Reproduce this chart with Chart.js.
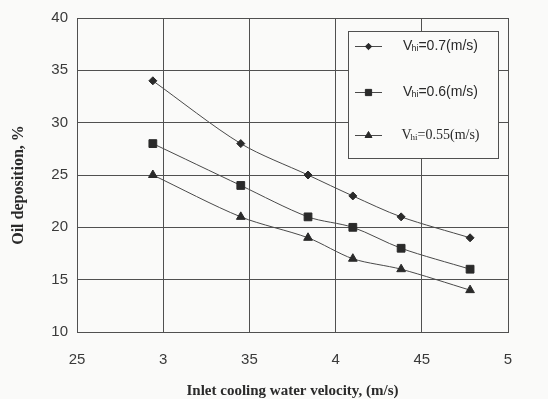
<!DOCTYPE html>
<html><head><meta charset="utf-8">
<script src="https://cdn.jsdelivr.net/npm/chart.js@4/dist/chart.umd.min.js"></script>
<style>html,body{margin:0;padding:0;background:#fafaf9;}#wrap{width:548px;height:399px;}</style>
</head><body><div id="wrap"><canvas id="c" width="548" height="399"></canvas></div>
<script>
// ---- data ----
const velocity = [2.94, 3.45, 3.84, 4.10, 4.38, 4.78];
const deposition07 = [34, 28, 25, 23, 21, 19];
const deposition06 = [28, 24, 21, 20, 18, 16];
const deposition055 = [25, 21, 19, 17, 16, 14];
const seriesMain = ['V', 'V', 'V'];
const seriesSub = ['hi', 'hi', 'hi'];
const seriesRest = ['=0.7(m/s)', '=0.6(m/s)', '=0.55(m/s)'];
const xTickValues = [2.5, 3, 3.5, 4, 4.5, 5];
const xTickLabels = ['25', '3', '35', '4', '45', '5'];
const yTickValues = [10, 15, 20, 25, 30, 35, 40];
const yTickLabels = ['10', '15', '20', '25', '30', '35', '40'];
const xTitle = 'Inlet cooling water velocity, (m/s)';
const yTitle = 'Oil deposition, %';

const ink = '#2a2a2a';
const tickInk = '#3a3a3a';
const lineInk = '#4a4a4a';
const gridInk = '#505050';
const bg = '#fafaf9';

function pts(ys) { return velocity.map((x, i) => ({x: x, y: ys[i]})); }

const seriesDefs = [
  {data: deposition07, style: 'rectRot', r: 4},
  {data: deposition06, style: 'rect', r: 5.5},
  {data: deposition055, style: 'triangle', r: 5}
];

const datasets = seriesDefs.map((s, i) => ({
  label: seriesMain[i] + seriesSub[i] + seriesRest[i],
  data: pts(s.data),
  borderColor: lineInk,
  backgroundColor: ink,
  pointBackgroundColor: ink,
  pointBorderColor: ink,
  borderWidth: 1,
  pointStyle: s.style,
  pointRadius: s.r,
  pointBorderWidth: 1,
  tension: 0.3,
  fill: false
}));

function drawMarker(ctx, style, x, y, r) {
  ctx.beginPath();
  if (style === 'rectRot') {
    ctx.moveTo(x, y - r); ctx.lineTo(x + r, y); ctx.lineTo(x, y + r); ctx.lineTo(x - r, y);
  } else if (style === 'rect') {
    const s = r * Math.SQRT1_2;
    ctx.rect(x - s, y - s, 2 * s, 2 * s);
  } else {
    const w = r * Math.sqrt(3) / 2;
    ctx.moveTo(x, y - r); ctx.lineTo(x + w, y + r / 2); ctx.lineTo(x - w, y + r / 2);
  }
  ctx.closePath();
  ctx.fill();
  ctx.stroke();
}

const boxLegend = {
  id: 'boxLegend',
  afterDatasetsDraw(chart) {
    const ctx = chart.ctx;
    const ca = chart.chartArea;
    const bx = ca.left + 271, by = ca.top + 13, bw = 150, bh = 127;
    ctx.save();
    ctx.fillStyle = bg;
    ctx.fillRect(bx, by, bw, bh);
    ctx.strokeStyle = gridInk;
    ctx.lineWidth = 1;
    ctx.strokeRect(bx + 0.5, by + 0.5, bw, bh);
    const rowsY = [by + 15, by + 61, by + 104];
    chart.data.datasets.forEach((ds, i) => {
      const y = rowsY[i];
      ctx.strokeStyle = lineInk;
      ctx.beginPath(); ctx.moveTo(bx + 7, y + 0.5); ctx.lineTo(bx + 34, y + 0.5); ctx.stroke();
      ctx.fillStyle = ink; ctx.strokeStyle = ink;
      drawMarker(ctx, ds.pointStyle, bx + 20.5, y + 0.5, ds.pointRadius * 0.8);
      const fam = i === 2 ? '"Liberation Serif", serif' : '"Liberation Sans Narrow", "Liberation Sans", sans-serif';
      const big = '14px ' + fam, small = '9px ' + fam;
      ctx.textBaseline = 'middle';
      ctx.textAlign = 'left';
      ctx.font = big;
      const w1 = ctx.measureText(seriesMain[i]).width;
      ctx.font = small;
      const w2 = ctx.measureText(seriesSub[i]).width;
      ctx.font = big;
      const w3 = ctx.measureText(seriesRest[i]).width;
      let tx = bx + 93 - (w1 + w2 + w3) / 2;
      ctx.fillStyle = ink;
      ctx.fillText(seriesMain[i], tx, y);
      ctx.font = small; ctx.fillText(seriesSub[i], tx + w1 - 1, y + 3);
      ctx.font = big; ctx.fillText(seriesRest[i], tx + w1 + w2 - 1, y);
    });
    ctx.restore();
  }
};

const yTitlePlugin = {
  id: 'yTitlePlugin',
  afterDraw(chart) {
    const ctx = chart.ctx;
    ctx.save();
    ctx.translate(19, (chart.chartArea.top + chart.chartArea.bottom) / 2 + 10);
    ctx.rotate(-Math.PI / 2);
    ctx.font = 'bold 16px "Liberation Serif", serif';
    ctx.fillStyle = ink;
    ctx.textAlign = 'center';
    ctx.textBaseline = 'middle';
    ctx.fillText(yTitle, 0, 0);
    ctx.restore();
  }
};

const bgPlugin = {
  id: 'bgPlugin',
  beforeDraw(chart) {
    const ctx = chart.ctx;
    ctx.save(); ctx.fillStyle = bg; ctx.fillRect(0, 0, chart.width, chart.height); ctx.restore();
  }
};

new Chart(document.getElementById('c'), {
  type: 'line',
  data: {datasets: datasets},
  options: {
    responsive: false,
    devicePixelRatio: 1,
    animation: false,
    layout: {padding: {left: 0, right: 40, top: 16, bottom: 0}},
    plugins: {legend: {display: false}, tooltip: {enabled: false}},
    scales: {
      x: {
        type: 'linear', min: 2.5, max: 5,
        afterFit(s) { s.height = 67; },
        afterBuildTicks(s) { s.ticks = xTickValues.map(v => ({value: v})); },
        ticks: {
          padding: 19, color: tickInk, maxRotation: 0,
          font: {family: '"Liberation Sans", Arial, sans-serif', size: 15},
          callback(v) { const i = xTickValues.indexOf(v); return i >= 0 ? xTickLabels[i] : ''; }
        },
        grid: {color: gridInk, lineWidth: 1, drawTicks: false, tickLength: 0},
        border: {color: gridInk, width: 1},
        title: {display: true, text: xTitle, color: ink, padding: {top: 0, bottom: -1},
          font: {family: '"Liberation Serif", serif', size: 15, weight: 'bold'}}
      },
      y: {
        type: 'linear', min: 10, max: 40,
        afterFit(s) { s.width = 77; },
        afterBuildTicks(s) { s.ticks = yTickValues.map(v => ({value: v})); },
        ticks: {
          padding: 9, color: tickInk,
          font: {family: '"Liberation Sans", Arial, sans-serif', size: 15},
          callback(v) { const i = yTickValues.indexOf(v); return i >= 0 ? yTickLabels[i] : ''; }
        },
        grid: {color: gridInk, lineWidth: 1, drawTicks: false, tickLength: 0},
        border: {color: gridInk, width: 1}
      }
    }
  },
  plugins: [bgPlugin, boxLegend, yTitlePlugin]
});
</script>
</body></html>
